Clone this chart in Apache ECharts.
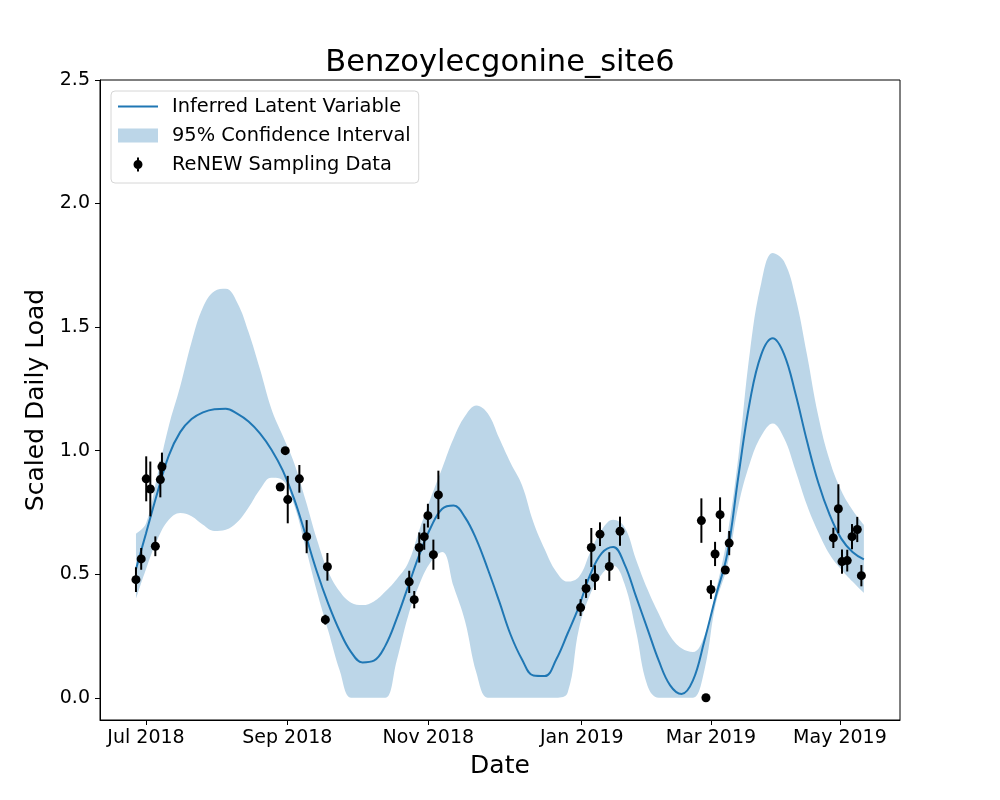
<!DOCTYPE html>
<html lang="en">
<head>
<meta charset="UTF-8">
<title>Benzoylecgonine_site6</title>
<script src="https://cdn.jsdelivr.net/npm/echarts@6/dist/echarts.min.js"></script>
<style>
    html, body { margin: 0; padding: 0; background: #fff; }
    #main { width: 1000px; height: 800px; }
</style>
</head>
<body>
<div id="main"></div>
<script>
// x unit: days counted from the "Jul 2018" tick
var xTickPos = [0, 62.0, 123.9, 191.2, 247.9, 304.5];
var xTickLabels = ['Jul 2018', 'Sep 2018', 'Nov 2018', 'Jan 2019', 'Mar 2019', 'May 2019'];
var yTicks = [0, 0.5, 1, 1.5, 2, 2.5];

// inferred latent variable and its 95% band
var gridDays = [-4.4, 0, 5, 10, 15, 20, 25, 30, 35, 40, 45, 50, 55, 60, 65, 70, 75, 80, 85, 90,
    95, 100, 105, 110, 115, 120, 125, 130, 135, 140, 145, 150, 155, 160, 165, 170, 175, 180, 185, 190,
    195, 200, 205, 210, 215, 220, 225, 230, 235, 240, 245, 250, 255, 260, 265, 270, 275, 280, 285, 290,
    295, 300, 305, 310, 315];
var meanLoad = [0.52, 0.665, 0.83, 0.98, 1.075, 1.128, 1.155, 1.168, 1.17, 1.15, 1.118, 1.07, 1.005, 0.92, 0.805, 0.66, 0.51, 0.38, 0.27, 0.185,
    0.143, 0.15, 0.21, 0.32, 0.45, 0.58, 0.69, 0.765, 0.778, 0.73, 0.64, 0.52, 0.39, 0.255, 0.155, 0.09, 0.088, 0.155, 0.26, 0.37,
    0.5, 0.585, 0.61, 0.54, 0.41, 0.28, 0.15, 0.05, 0.015, 0.07, 0.23, 0.41, 0.58, 0.9, 1.2, 1.39, 1.455, 1.39, 1.23, 1.04,
    0.87, 0.74, 0.645, 0.59, 0.56];
var upperLoad = [0.664, 0.705, 0.9, 1.1, 1.26, 1.44, 1.58, 1.645, 1.655, 1.6, 1.48, 1.33, 1.17, 1.06, 0.95, 0.8, 0.64, 0.51, 0.43, 0.385,
    0.375, 0.39, 0.43, 0.48, 0.545, 0.68, 0.81, 0.93, 1.05, 1.14, 1.183, 1.15, 1.05, 0.95, 0.86, 0.71, 0.6, 0.51, 0.47, 0.49,
    0.59, 0.68, 0.72, 0.69, 0.56, 0.44, 0.34, 0.25, 0.2, 0.185, 0.25, 0.43, 0.65, 0.98, 1.4, 1.68, 1.8, 1.765, 1.62, 1.39,
    1.14, 0.96, 0.84, 0.76, 0.7];
var lowerLoad = [0.4, 0.52, 0.64, 0.72, 0.748, 0.735, 0.7, 0.675, 0.68, 0.71, 0.77, 0.843, 0.89, 0.88, 0.78, 0.61, 0.43, 0.27, 0.11, 0,
    0, 0, 0, 0.15, 0.33, 0.46, 0.55, 0.59, 0.45, 0.31, 0.1, 0, 0, 0, 0, 0, 0, 0, 0.02, 0.28,
    0.42, 0.5, 0.535, 0.46, 0.27, 0.05, 0, 0, 0, 0, 0.11, 0.38, 0.53, 0.78, 0.95, 1.06, 1.11, 1.05, 0.92, 0.78,
    0.67, 0.58, 0.52, 0.47, 0.424];

// sampling data with error half-widths
var sampleDays = [-4.4, -2.1, 0.1, 1.9, 4.1, 6.3, 7.0, 58.9, 61.1, 62.2, 67.3, 70.5, 78.7, 79.6,
    115.5, 117.7, 119.9, 122.1, 123.7, 126.1, 128.3, 190.7, 193.1, 195.4, 197.0, 199.2, 203.3, 208.0,
    243.7, 245.7, 247.9, 249.7, 251.9, 254.2, 255.9, 301.6, 303.8, 305.4, 307.7, 309.8, 312.1, 313.9];
var sampleLoad = [0.478, 0.562, 0.886, 0.845, 0.613, 0.883, 0.935, 0.853, 1.0, 0.802, 0.886, 0.652, 0.316, 0.53,
    0.469, 0.397, 0.608, 0.652, 0.737, 0.579, 0.821, 0.365, 0.442, 0.608, 0.486, 0.662, 0.531, 0.674,
    0.717, 0.0, 0.438, 0.582, 0.741, 0.517, 0.626, 0.647, 0.765, 0.551, 0.555, 0.652, 0.681, 0.494];
var sampleErr = [0.05, 0.044, 0.091, 0.111, 0.04, 0.072, 0.057, 0, 0, 0.096, 0.056, 0.067, 0.02, 0.056,
    0.045, 0.035, 0.061, 0.053, 0.048, 0.061, 0.098, 0.034, 0.038, 0.079, 0.05, 0.048, 0.058, 0.059,
    0.09, 0, 0.038, 0.049, 0.07, 0.01, 0.049, 0.041, 0.099, 0.049, 0.044, 0.051, 0.051, 0.043];

var font = 'DejaVu Sans';
var blue = '#1f77b4';
var bandColor = '#bcd6e8';

// band rows are [load, day] so the stack runs on the load column
var lowerRows = [], bandRows = [], meanPts = [];
for (var i = 0; i < gridDays.length; i++) {
    lowerRows.push([lowerLoad[i], gridDays[i]]);
    bandRows.push([+(upperLoad[i] - lowerLoad[i]).toFixed(4), gridDays[i]]);
    meanPts.push([gridDays[i], meanLoad[i]]);
}
var samplePts = [], errPts = [];
for (var j = 0; j < sampleDays.length; j++) {
    samplePts.push([sampleDays[j], sampleLoad[j]]);
    errPts.push([sampleDays[j], sampleLoad[j], sampleErr[j]]);
}

function renderErr(params, api) {
    var x = api.value(0), y = api.value(1), e = api.value(2);
    if (!e) return;
    var top = api.coord([x, y + e]);
    var bot = api.coord([x, y - e]);
    return {
        type: 'line',
        shape: {x1: top[0], y1: top[1], x2: bot[0], y2: bot[1]},
        style: {stroke: '#000', lineWidth: 2}
    };
}

// legend icons, padded to the 40x14 legend box so they are not stretched
var lineIcon = 'path://M0,0M40,14M0,6L40,6L40,8L0,8Z';
var errIcon = 'path://M0,0M40,14M19,0L21,0L21,14L19,14ZM24.5,7A4.5,4.5 0 1 1 15.5,7A4.5,4.5 0 1 1 24.5,7Z';

var myChart = echarts.init(document.getElementById('main'));
var option = {
    animation: false,
    backgroundColor: '#fff',
    title: {
        text: 'Benzoylecgonine_site6',
        left: 'center',
        top: 48,
        padding: 0,
        textStyle: {fontFamily: font, fontSize: 30.5, fontWeight: 'normal', color: '#000'}
    },
    legend: {
        orient: 'vertical',
        left: 111,
        top: 91,
        padding: [6, 8, 9, 7],
        itemGap: 10,
        itemWidth: 40,
        itemHeight: 14,
        borderColor: '#d6d6d6',
        borderWidth: 1,
        borderRadius: 4,
        backgroundColor: 'rgba(255,255,255,0.8)',
        textStyle: {fontFamily: font, fontSize: 19.4, color: '#000', padding: [0, 0, 0, 9]},
        data: [
            {name: 'Inferred Latent Variable', icon: lineIcon},
            {name: '95% Confidence Interval', icon: 'rect'},
            {name: 'ReNEW Sampling Data', icon: errIcon}
        ]
    },
    grid: {left: 100, right: 100, top: 80, bottom: 80, show: true, borderColor: '#000', borderWidth: 1},
    xAxis: {
        type: 'value',
        min: -20.18,
        max: 330.85,
        name: 'Date',
        nameLocation: 'middle',
        nameGap: 34,
        nameTextStyle: {fontFamily: font, fontSize: 25, color: '#000'},
        splitLine: {show: false},
        axisLine: {show: true, onZero: false, lineStyle: {color: '#000', width: 1}},
        axisTick: {show: true, length: 5, lineStyle: {color: '#000'}, customValues: xTickPos},
        axisLabel: {
            fontFamily: font, fontSize: 19, color: '#000', margin: 9,
            customValues: xTickPos,
            formatter: function (v) {
                var k = xTickPos.indexOf(v);
                return k >= 0 ? xTickLabels[k] : '';
            }
        }
    },
    yAxis: {
        type: 'value',
        min: -0.09,
        max: 2.5,
        name: 'Scaled Daily Load',
        nameLocation: 'middle',
        nameGap: 43,
        nameTextStyle: {fontFamily: font, fontSize: 25, color: '#000'},
        splitLine: {show: false},
        axisLine: {show: true, onZero: false, lineStyle: {color: '#000', width: 1}},
        axisTick: {show: true, length: 5, lineStyle: {color: '#000'}, customValues: yTicks},
        axisLabel: {
            fontFamily: font, fontSize: 19, color: '#000', margin: 10,
            customValues: yTicks,
            formatter: function (v) { return v.toFixed(1); }
        }
    },
    series: [
        {
            name: 'ci_lower',
            type: 'line',
            stack: 'ci',
            data: lowerRows,
            encode: {x: 1, y: 0},
            smooth: 0.4,
            symbol: 'none',
            silent: true,
            lineStyle: {opacity: 0, width: 0},
            z: 1
        },
        {
            name: '95% Confidence Interval',
            type: 'line',
            stack: 'ci',
            data: bandRows,
            encode: {x: 1, y: 0},
            smooth: 0.4,
            symbol: 'none',
            color: bandColor,
            lineStyle: {opacity: 0, width: 0},
            areaStyle: {color: bandColor, opacity: 1},
            z: 1
        },
        {
            name: 'Inferred Latent Variable',
            type: 'line',
            data: meanPts,
            smooth: 0.4,
            symbol: 'none',
            color: blue,
            lineStyle: {color: blue, width: 2},
            z: 2
        },
        {
            name: 'ReNEW Sampling Data',
            type: 'custom',
            renderItem: renderErr,
            data: errPts,
            encode: {x: 0, y: 1},
            itemStyle: {color: '#000'},
            z: 3
        },
        {
            name: 'ReNEW Sampling Data',
            type: 'scatter',
            data: samplePts,
            symbolSize: 9,
            itemStyle: {color: '#000', opacity: 1},
            z: 4
        }
    ]
};
myChart.setOption(option);
</script>
</body>
</html>
